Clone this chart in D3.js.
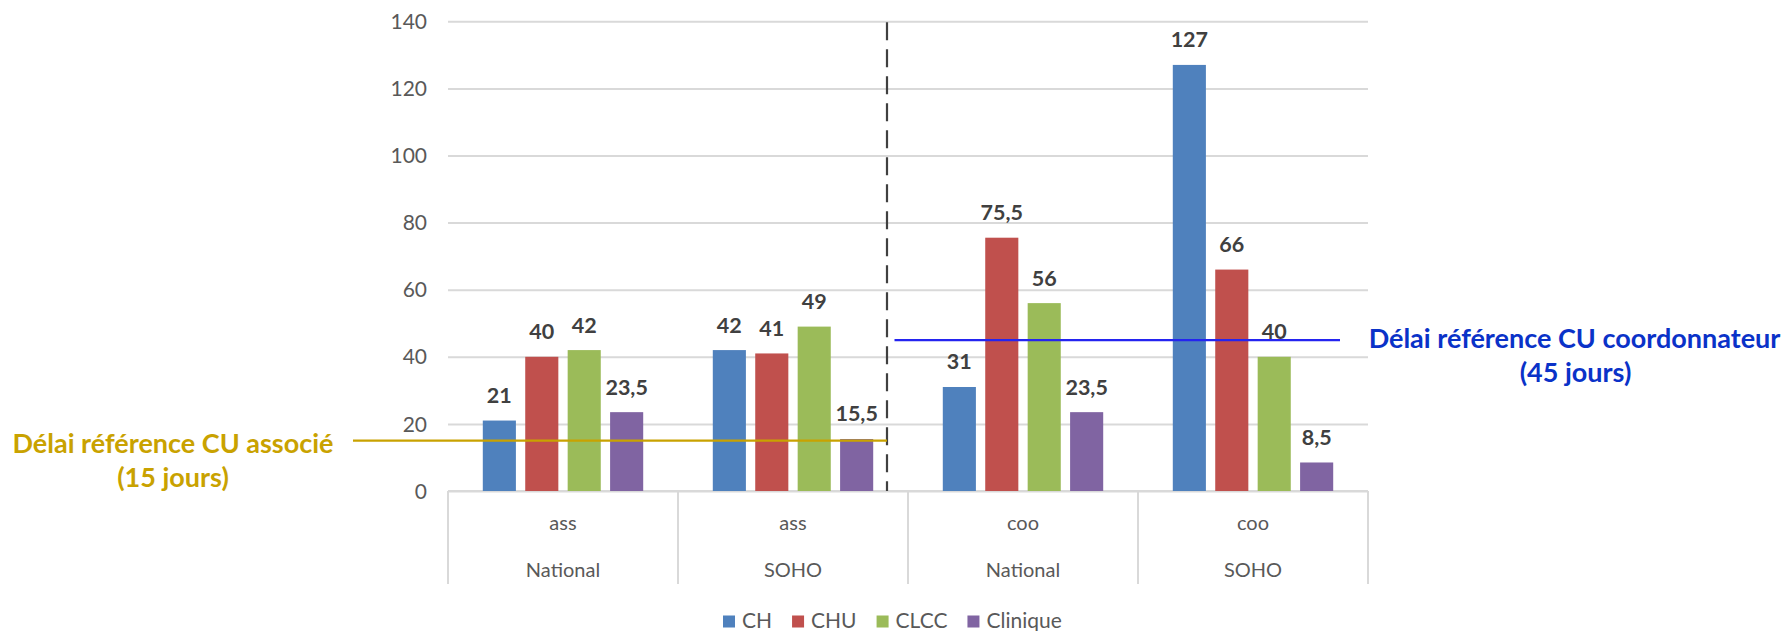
<!DOCTYPE html>
<html>
<head>
<meta charset="utf-8">
<script src="https://cdn.jsdelivr.net/npm/d3@7"></script>
<style>
  html, body { margin: 0; padding: 0; background: #ffffff; }
  svg { display: block; font-family: Lato, "Open Sans", sans-serif; }
</style>
</head>
<body>
<svg id="chart" width="1787" height="631"></svg>
<script>
// Délais médians par type d'établissement
const groupsRole = ["ass", "ass", "coo", "coo"];
const groupsScope = ["National", "SOHO", "National", "SOHO"];
const series = ["CH", "CHU", "CLCC", "Clinique"];
const valuesCH = [21, 42, 31, 127];
const valuesCHU = [40, 41, 75.5, 66];
const valuesCLCC = [42, 49, 56, 40];
const valuesClinique = [23.5, 15.5, 23.5, 8.5];
const yTicks = [0, 20, 40, 60, 80, 100, 120, 140];
const refAssocie = 15;      // jours
const refCoordo = 45;       // jours
const colors = ["#4F81BD", "#C0504D", "#9BBB59", "#8064A2"];

const seriesValues = [valuesCH, valuesCHU, valuesCLCC, valuesClinique];
const groupKeys = groupsRole.map((r, i) => r + "|" + groupsScope[i]);

const svg = d3.select("#chart");
const plot = { left: 448, right: 1368, top: 21.3, bottom: 491, axisBottom: 584 };

const x0 = d3.scaleBand().domain(groupKeys).range([plot.left, plot.right]).padding(0);
const x1 = d3.scaleBand().domain(series).range([0, x0.bandwidth()])
  .paddingInner(0.22).paddingOuter(0.82);
const y = d3.scaleLinear().domain([0, 140]).range([plot.bottom, plot.top]);

const fmt = v => String(v).replace(".", ",");

// Gridlines and value axis
const yAxis = d3.axisLeft(y).tickValues(yTicks).tickSize(-(plot.right - plot.left)).tickPadding(21);
const gy = svg.append("g").attr("transform", `translate(${plot.left},0)`).call(yAxis);
gy.select(".domain").remove();
gy.selectAll(".tick line").attr("stroke", "#d9d9d9").attr("stroke-width", 2);
gy.selectAll(".tick text")
  .attr("fill", "#595959").attr("font-size", 21).attr("font-family", "Lato, sans-serif")
  .attr("dy", "0.34em");

// Category axis: boundaries between groups
const bounds = groupKeys.map(k => x0(k)).concat([plot.right]);
svg.append("g").selectAll("line").data(bounds).join("line")
  .attr("x1", d => d).attr("x2", d => d)
  .attr("y1", plot.bottom).attr("y2", plot.axisBottom)
  .attr("stroke", "#d9d9d9").attr("stroke-width", 2);
svg.append("line")
  .attr("x1", plot.left).attr("x2", plot.right)
  .attr("y1", plot.bottom).attr("y2", plot.bottom)
  .attr("stroke", "#d9d9d9").attr("stroke-width", 2);

const catG = svg.append("g").attr("fill", "#595959").attr("font-size", 20).attr("text-anchor", "middle");
catG.selectAll("text.role").data(groupKeys).join("text").attr("class", "role")
  .attr("x", d => x0(d) + x0.bandwidth() / 2).attr("y", 529.5)
  .text((d, i) => groupsRole[i]);
catG.selectAll("text.scope").data(groupKeys).join("text").attr("class", "scope")
  .attr("x", d => x0(d) + x0.bandwidth() / 2).attr("y", 577)
  .text((d, i) => groupsScope[i]);

// Bars
const barData = [];
groupKeys.forEach((g, gi) => {
  series.forEach((s, si) => {
    barData.push({ group: g, serie: s, value: seriesValues[si][gi], color: colors[si] });
  });
});

svg.append("g").selectAll("rect").data(barData).join("rect")
  .attr("x", d => x0(d.group) + x1(d.serie))
  .attr("width", x1.bandwidth())
  .attr("y", d => y(d.value))
  .attr("height", d => y(0) - y(d.value))
  .attr("fill", d => d.color);

svg.append("g").attr("font-size", 21.5).attr("font-weight", 700).attr("fill", "#404040")
  .attr("text-anchor", "middle")
  .selectAll("text").data(barData).join("text")
  .attr("x", d => x0(d.group) + x1(d.serie) + x1.bandwidth() / 2)
  .attr("y", d => y(d.value) - 17.5)
  .text(d => fmt(d.value));

// Separation between associé and coordonnateur
const sepX = x0(groupKeys[2]) - 21;
svg.append("line")
  .attr("x1", sepX).attr("x2", sepX)
  .attr("y1", y(140) + 1).attr("y2", plot.bottom)
  .attr("stroke", "#404040").attr("stroke-width", 2.2)
  .attr("stroke-dasharray", "18,9");

// Reference lines
const gold = "#C9A200";
const blue = "#0A32C8";
svg.append("line")
  .attr("x1", 353).attr("x2", sepX)
  .attr("y1", y(refAssocie)).attr("y2", y(refAssocie))
  .attr("stroke", gold).attr("stroke-width", 2.2);
svg.append("line")
  .attr("x1", sepX + 7.5).attr("x2", 1340)
  .attr("y1", y(refCoordo)).attr("y2", y(refCoordo))
  .attr("stroke", "#2424F0").attr("stroke-width", 2.2);

const ann1 = svg.append("g").attr("fill", gold).attr("font-weight", 700).attr("font-size", 27)
  .attr("text-anchor", "middle");
ann1.append("text").attr("x", 173).attr("y", 452.7).text("Délai référence CU associé");
ann1.append("text").attr("x", 173).attr("y", 486.7).text(`(${refAssocie} jours)`);

const ann2 = svg.append("g").attr("fill", blue).attr("font-weight", 700).attr("font-size", 27)
  .attr("text-anchor", "middle");
ann2.append("text").attr("x", 1574.5).attr("y", 348.3).text("Délai référence CU coordonnateur");
ann2.append("text").attr("x", 1575.5).attr("y", 381.7).text(`(${refCoordo} jours)`);

// Legend
const legend = svg.append("g").attr("font-size", 21).attr("fill", "#595959");
let lx = 723;
series.forEach((s, i) => {
  legend.append("rect").attr("x", lx).attr("y", 615.5).attr("width", 12).attr("height", 12).attr("fill", colors[i]);
  const t = legend.append("text").attr("x", lx + 19).attr("y", 627.7).text(s);
  lx += 19 + t.node().getComputedTextLength() + 20;
});
</script>
</body>
</html>
